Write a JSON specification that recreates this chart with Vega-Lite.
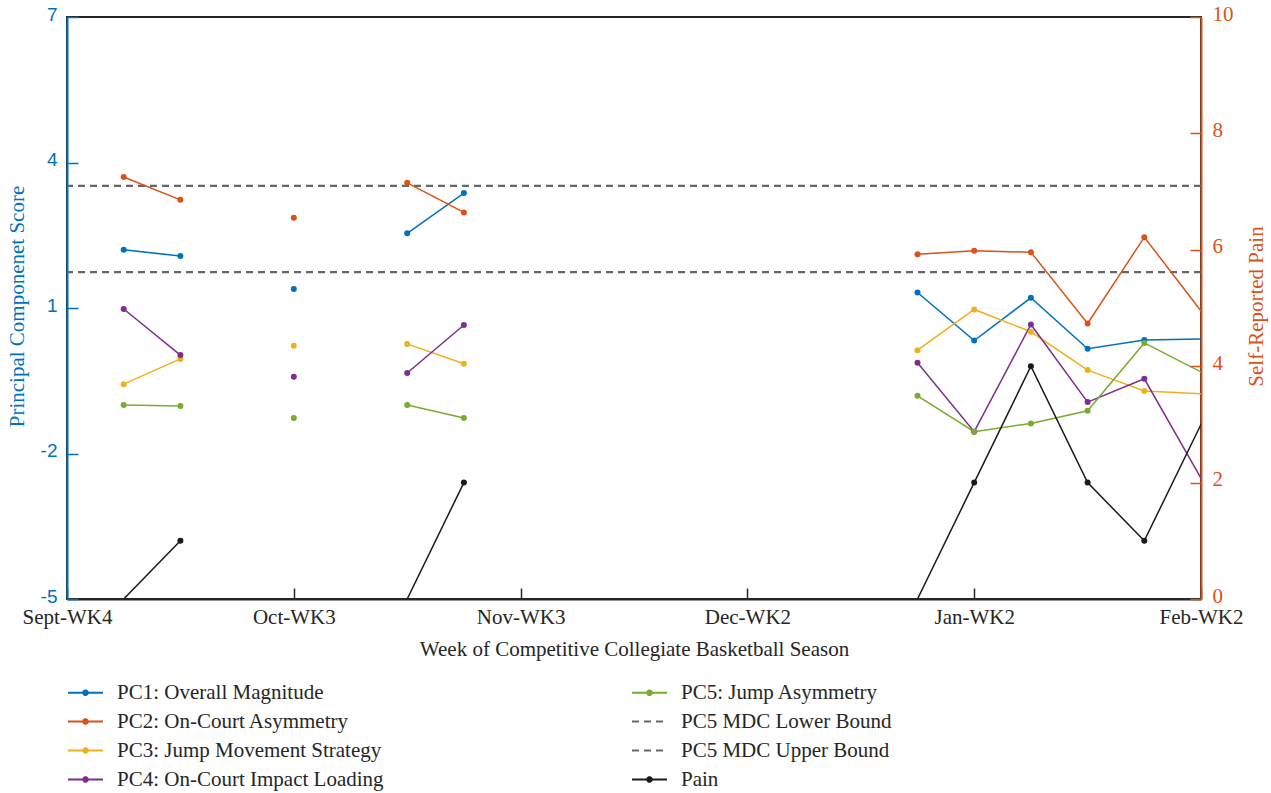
{
  "$schema": "https://vega.github.io/schema/vega-lite/v6.json",
  "width": 1134,
  "height": 582,
  "autosize": {"type": "none"},
  "padding": {"left": 67, "top": 17, "right": 70, "bottom": 194},
  "config": {
    "view": {"stroke": "#262626", "strokeWidth": 2},
    "font": "Liberation Serif",
    "axis": {"grid": false, "titleFontWeight": "normal", "labelFontSize": 21, "titleFontSize": 21, "labelFont": "Liberation Serif", "titleFont": "Liberation Serif"},
    "legend": {"labelFont": "Liberation Serif", "labelFontSize": 21, "labelColor": "#262626"}
  },
  "datasets": {
    "mdc": [
      {"series": "PC5 MDC Lower Bound", "value": 1.74},
      {"series": "PC5 MDC Upper Bound", "value": 3.52}
    ],
    "pc": [
      {"series": "PC1: Overall Magnitude", "week": 1, "seg": "a", "value": 2.2},
      {"series": "PC1: Overall Magnitude", "week": 2, "seg": "a", "value": 2.07},
      {"series": "PC1: Overall Magnitude", "week": 4, "seg": "b", "value": 1.39},
      {"series": "PC1: Overall Magnitude", "week": 6, "seg": "c", "value": 2.54},
      {"series": "PC1: Overall Magnitude", "week": 7, "seg": "c", "value": 3.37},
      {"series": "PC1: Overall Magnitude", "week": 15, "seg": "d", "value": 1.32},
      {"series": "PC1: Overall Magnitude", "week": 16, "seg": "d", "value": 0.33},
      {"series": "PC1: Overall Magnitude", "week": 17, "seg": "d", "value": 1.21},
      {"series": "PC1: Overall Magnitude", "week": 18, "seg": "d", "value": 0.16},
      {"series": "PC1: Overall Magnitude", "week": 19, "seg": "d", "value": 0.34},
      {"series": "PC1: Overall Magnitude", "week": 21, "seg": "d", "value": 0.38},
      {"series": "PC2: On-Court Asymmetry", "week": 1, "seg": "a", "value": 3.7},
      {"series": "PC2: On-Court Asymmetry", "week": 2, "seg": "a", "value": 3.23},
      {"series": "PC2: On-Court Asymmetry", "week": 4, "seg": "b", "value": 2.86},
      {"series": "PC2: On-Court Asymmetry", "week": 6, "seg": "c", "value": 3.58},
      {"series": "PC2: On-Court Asymmetry", "week": 7, "seg": "c", "value": 2.97},
      {"series": "PC2: On-Court Asymmetry", "week": 15, "seg": "d", "value": 2.11},
      {"series": "PC2: On-Court Asymmetry", "week": 16, "seg": "d", "value": 2.18},
      {"series": "PC2: On-Court Asymmetry", "week": 17, "seg": "d", "value": 2.15},
      {"series": "PC2: On-Court Asymmetry", "week": 18, "seg": "d", "value": 0.68},
      {"series": "PC2: On-Court Asymmetry", "week": 19, "seg": "d", "value": 2.46},
      {"series": "PC2: On-Court Asymmetry", "week": 21, "seg": "d", "value": -0.58},
      {"series": "PC3: Jump Movement Strategy", "week": 1, "seg": "a", "value": -0.57},
      {"series": "PC3: Jump Movement Strategy", "week": 2, "seg": "a", "value": -0.05},
      {"series": "PC3: Jump Movement Strategy", "week": 4, "seg": "b", "value": 0.22},
      {"series": "PC3: Jump Movement Strategy", "week": 6, "seg": "c", "value": 0.26},
      {"series": "PC3: Jump Movement Strategy", "week": 7, "seg": "c", "value": -0.15},
      {"series": "PC3: Jump Movement Strategy", "week": 15, "seg": "d", "value": 0.13},
      {"series": "PC3: Jump Movement Strategy", "week": 16, "seg": "d", "value": 0.97},
      {"series": "PC3: Jump Movement Strategy", "week": 17, "seg": "d", "value": 0.51},
      {"series": "PC3: Jump Movement Strategy", "week": 18, "seg": "d", "value": -0.28},
      {"series": "PC3: Jump Movement Strategy", "week": 19, "seg": "d", "value": -0.71},
      {"series": "PC3: Jump Movement Strategy", "week": 21, "seg": "d", "value": -0.83},
      {"series": "PC4: On-Court Impact Loading", "week": 1, "seg": "a", "value": 0.98},
      {"series": "PC4: On-Court Impact Loading", "week": 2, "seg": "a", "value": 0.03},
      {"series": "PC4: On-Court Impact Loading", "week": 4, "seg": "b", "value": -0.42},
      {"series": "PC4: On-Court Impact Loading", "week": 6, "seg": "c", "value": -0.34},
      {"series": "PC4: On-Court Impact Loading", "week": 7, "seg": "c", "value": 0.65},
      {"series": "PC4: On-Court Impact Loading", "week": 15, "seg": "d", "value": -0.13},
      {"series": "PC4: On-Court Impact Loading", "week": 16, "seg": "d", "value": -1.55},
      {"series": "PC4: On-Court Impact Loading", "week": 17, "seg": "d", "value": 0.66},
      {"series": "PC4: On-Court Impact Loading", "week": 18, "seg": "d", "value": -0.94},
      {"series": "PC4: On-Court Impact Loading", "week": 19, "seg": "d", "value": -0.46},
      {"series": "PC4: On-Court Impact Loading", "week": 21, "seg": "d", "value": -4.56},
      {"series": "PC5: Jump Asymmetry", "week": 1, "seg": "a", "value": -1.0},
      {"series": "PC5: Jump Asymmetry", "week": 2, "seg": "a", "value": -1.02},
      {"series": "PC5: Jump Asymmetry", "week": 4, "seg": "b", "value": -1.27},
      {"series": "PC5: Jump Asymmetry", "week": 6, "seg": "c", "value": -1.0},
      {"series": "PC5: Jump Asymmetry", "week": 7, "seg": "c", "value": -1.27},
      {"series": "PC5: Jump Asymmetry", "week": 15, "seg": "d", "value": -0.81},
      {"series": "PC5: Jump Asymmetry", "week": 16, "seg": "d", "value": -1.55},
      {"series": "PC5: Jump Asymmetry", "week": 17, "seg": "d", "value": -1.38},
      {"series": "PC5: Jump Asymmetry", "week": 18, "seg": "d", "value": -1.12},
      {"series": "PC5: Jump Asymmetry", "week": 19, "seg": "d", "value": 0.28},
      {"series": "PC5: Jump Asymmetry", "week": 21, "seg": "d", "value": -0.92}
    ],
    "pain": [
      {"series": "Pain", "week": 1, "seg": "a", "value": 0},
      {"series": "Pain", "week": 2, "seg": "a", "value": 1},
      {"series": "Pain", "week": 6, "seg": "c", "value": 0},
      {"series": "Pain", "week": 7, "seg": "c", "value": 2},
      {"series": "Pain", "week": 15, "seg": "d", "value": 0},
      {"series": "Pain", "week": 16, "seg": "d", "value": 2},
      {"series": "Pain", "week": 17, "seg": "d", "value": 4},
      {"series": "Pain", "week": 18, "seg": "d", "value": 2},
      {"series": "Pain", "week": 19, "seg": "d", "value": 1},
      {"series": "Pain", "week": 21, "seg": "d", "value": 5}
    ]
  },
  "encoding": {
    "color": {
      "field": "series",
      "type": "nominal",
      "scale": {
        "domain": ["PC1: Overall Magnitude", "PC2: On-Court Asymmetry", "PC3: Jump Movement Strategy", "PC4: On-Court Impact Loading", "PC5: Jump Asymmetry", "PC5 MDC Lower Bound", "PC5 MDC Upper Bound", "Pain"],
        "range": ["#0072BD", "#D95319", "#EDB120", "#7E2F8E", "#77AC30", "#666666", "#666666", "#1A1A1A"]
      },
      "legend": {
        "title": null,
        "orient": "none",
        "legendX": 0,
        "legendY": 657,
        "columns": 2,
        "columnPadding": 244,
        "rowPadding": -0.5,
        "labelLimit": 500,
        "symbolType": "M-1,0H1",
        "symbolSize": 1225,
        "symbolStrokeWidth": 2,
        "labelOffset": 13,
        "labelFontSize": 21,
        "encode": {
          "symbols": {
            "update": {
              "shape": {"signal": "indexof(datum.value,'MDC')>=0 ? 'M-1,0H1' : 'M-1,0H1M-0.13,0A0.13,0.13,0,1,1,0.13,0A0.13,0.13,0,1,1,-0.13,0Z'"},
              "fill": {"signal": "indexof(datum.value,'MDC')>=0 ? 'transparent' : scale('color', datum.value)"},
              "stroke": {"signal": "scale('color', datum.value)"},
              "strokeDash": {"signal": "indexof(datum.value,'MDC')>=0 ? [7,5] : [1,0]"},
              "strokeWidth": {"value": 2},
              "opacity": {"value": 1}
            }
          }
        }
      }
    }
  },
  "layer": [
    {
      "layer": [
        {
          "data": {"name": "mdc"},
          "mark": {"type": "rule", "strokeDash": [7, 5], "strokeWidth": 2.2},
          "encoding": {
            "y": {
              "field": "value", "type": "quantitative",
              "scale": {"domain": [-5, 7], "nice": false, "zero": false},
              "axis": {
                "orient": "left", "values": [-5, -2, 1, 4, 7], "labelExpr": "'' + datum.value", "title": "Principal Componenet Score",
                "tickSize": -11, "tickColor": "#0072BD", "tickWidth": 1.5,
                "domainColor": "#0072BD", "domainWidth": 2,
                "labelColor": "#0072BD", "labelFont": "Liberation Sans", "labelFontSize": 19, "labelPadding": 21, "labelOffset": -3,
                "titleColor": "#0072BD", "titleX": -50, "titleY": 289, "titleAngle": 270, "titleAlign": "center", "titleBaseline": "middle"
              }
            }
          }
        },
        {
          "data": {"name": "pc"},
          "mark": {"type": "line", "strokeWidth": 1.5, "clip": true},
          "encoding": {
            "x": {
              "field": "week", "type": "quantitative",
              "scale": {"domain": [0, 20], "nice": false, "zero": false},
              "axis": {
                "orient": "bottom", "values": [0, 4, 8, 12, 16, 20],
                "labelExpr": "datum.value==0?'Sept-WK4':datum.value==4?'Oct-WK3':datum.value==8?'Nov-WK3':datum.value==12?'Dec-WK2':datum.value==16?'Jan-WK2':'Feb-WK2'",
                "title": "Week of Competitive Collegiate Basketball Season",
                "tickSize": -11, "tickColor": "#262626", "tickWidth": 1.5,
                "domainColor": "#262626", "domainWidth": 2,
                "labelColor": "#262626", "labelPadding": 18, "labelFlush": false, "labelOverlap": false,
                "titleColor": "#262626", "titleY": 56, "titleBaseline": "alphabetic"
              }
            },
            "y": {"field": "value", "type": "quantitative"},
            "detail": {"field": "seg"}
          }
        },
        {
          "data": {"name": "pc"},
          "mark": {"type": "point", "filled": true, "size": 36, "opacity": 1, "clip": true},
          "encoding": {
            "x": {
              "field": "week", "type": "quantitative",
              "scale": {"domain": [0, 20], "nice": false, "zero": false},
              "axis": {
                "orient": "bottom", "values": [0, 4, 8, 12, 16, 20],
                "labelExpr": "datum.value==0?'Sept-WK4':datum.value==4?'Oct-WK3':datum.value==8?'Nov-WK3':datum.value==12?'Dec-WK2':datum.value==16?'Jan-WK2':'Feb-WK2'",
                "title": "Week of Competitive Collegiate Basketball Season",
                "tickSize": -11, "tickColor": "#262626", "tickWidth": 1.5,
                "domainColor": "#262626", "domainWidth": 2,
                "labelColor": "#262626", "labelPadding": 18, "labelFlush": false, "labelOverlap": false,
                "titleColor": "#262626", "titleY": 56, "titleBaseline": "alphabetic"
              }
            },
            "y": {"field": "value", "type": "quantitative"}
          }
        }
      ]
    },
    {
      "layer": [
        {
          "data": {"name": "pain"},
          "mark": {"type": "line", "strokeWidth": 1.5, "clip": true},
          "encoding": {
            "x": {
              "field": "week", "type": "quantitative",
              "scale": {"domain": [0, 20], "nice": false, "zero": false},
              "axis": {
                "orient": "bottom", "values": [0, 4, 8, 12, 16, 20],
                "labelExpr": "datum.value==0?'Sept-WK4':datum.value==4?'Oct-WK3':datum.value==8?'Nov-WK3':datum.value==12?'Dec-WK2':datum.value==16?'Jan-WK2':'Feb-WK2'",
                "title": "Week of Competitive Collegiate Basketball Season",
                "tickSize": -11, "tickColor": "#262626", "tickWidth": 1.5,
                "domainColor": "#262626", "domainWidth": 2,
                "labelColor": "#262626", "labelPadding": 18, "labelFlush": false, "labelOverlap": false,
                "titleColor": "#262626", "titleY": 56, "titleBaseline": "alphabetic"
              }
            },
            "y": {
              "field": "value", "type": "quantitative",
              "scale": {"domain": [0, 10], "nice": false, "zero": false},
              "axis": {
                "orient": "right", "values": [0, 2, 4, 6, 8, 10], "format": "d", "title": "Self-Reported Pain",
                "tickSize": -11, "tickColor": "#D95319", "tickWidth": 1.5,
                "domainColor": "#D95319", "domainWidth": 2,
                "labelColor": "#D95319", "labelPadding": 22, "labelOffset": -3,
                "titleColor": "#D95319", "titleX": 55, "titleY": 289, "titleAngle": 270, "titleAlign": "center", "titleBaseline": "middle"
              }
            },
            "detail": {"field": "seg"}
          }
        },
        {
          "data": {"name": "pain"},
          "transform": [{"filter": "datum.value > 0"}],
          "mark": {"type": "point", "filled": true, "size": 36, "opacity": 1, "clip": true},
          "encoding": {
            "x": {"field": "week", "type": "quantitative", "scale": {"domain": [0, 20], "nice": false, "zero": false}},
            "y": {"field": "value", "type": "quantitative"}
          }
        }
      ]
    }
  ],
  "resolve": {"scale": {"y": "independent"}}
}
